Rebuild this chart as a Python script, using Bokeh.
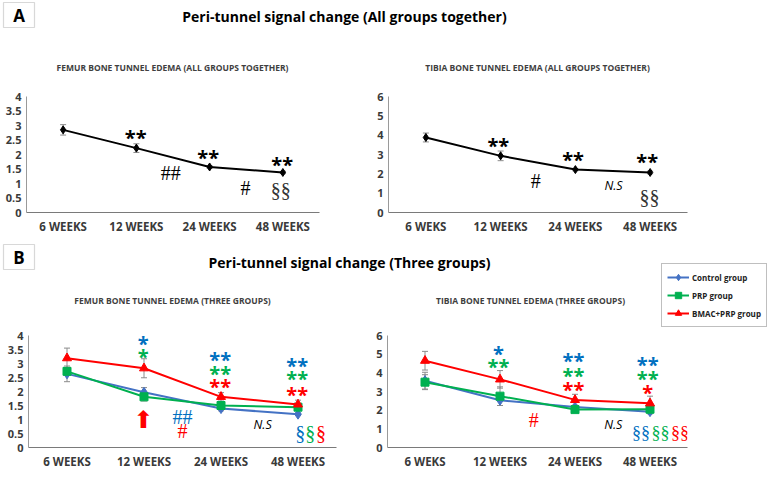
import numpy as np
from bokeh.plotting import figure
from bokeh.models import (ColumnDataSource, Whisker, TeeHead, Label, LabelSet, BoxAnnotation,
                          Legend, LegendItem, FactorRange, Range1d, FixedTicker,
                          CustomJSTickFormatter)
from bokeh.layouts import column, row
from bokeh.core.properties import value
from bokeh.embed import file_html
from bokeh.resources import INLINE

# ---------------- data ----------------
weeks_femur = ["6 WEEKS", "12 WEEKS", "24 WEEKS", "48 WEEKS"]
weeks_tibia = ["6 WEKS", "12 WEEKS", "24 WEEKS", "48 WEEKS"]

femur_all = [2.85, 2.22, 1.57, 1.38]
femur_all_err = [0.18, 0.15, 0.04, 0.04]
tibia_all = [3.88, 2.93, 2.22, 2.07]
tibia_all_err = [0.23, 0.25, 0.06, 0.07]

femur_control = [2.63, 1.97, 1.39, 1.19]
femur_control_err = [0.28, 0.17, 0.08, 0.04]
femur_prp = [2.72, 1.81, 1.50, 1.44]
femur_prp_err = [0.13, 0.15, 0.10, 0.05]
femur_bmac = [3.19, 2.83, 1.81, 1.54]
femur_bmac_err = [0.36, 0.34, 0.15, 0.15]

tibia_control = [3.58, 2.53, 2.17, 1.92]
tibia_control_err = [0.45, 0.28, 0.10, 0.12]
tibia_prp = [3.50, 2.75, 2.03, 2.05]
tibia_prp_err = [0.40, 0.50, 0.08, 0.10]
tibia_bmac = [4.65, 3.65, 2.55, 2.37]
tibia_bmac_err = [0.50, 0.47, 0.30, 0.38]

group_names = ["Control group", "PRP group", "BMAC+PRP group"]

BLUE, GREEN, RED, BLACK, DARK = "#0070C0", "#00B050", "#FF0000", "#000000", "#333333"
LINE_BLUE = "#4472C4"

# significance marks: (text, x position in category units, y value, colour)
femur_all_stars = [("**", 1.49, 2.71, BLACK), ("**", 2.48, 2.02, BLACK), ("**", 3.49, 1.79, BLACK)]
femur_all_hash = [("##", 1.97, 1.36, BLACK), ("#", 2.99, 0.86, BLACK)]
femur_all_sect = [("§§", 3.47, 0.79, DARK)]
femur_all_ns = []

tibia_all_stars = [("**", 1.47, 3.67, BLACK), ("**", 2.47, 2.97, BLACK), ("**", 3.46, 2.83, BLACK)]
tibia_all_hash = [("#", 1.97, 1.64, BLACK)]
tibia_all_sect = [("§§", 3.49, 0.79, DARK)]
tibia_all_ns = [("N.S", 3.01, 1.39, BLACK)]

femur_three_stars = [("*", 1.49, 3.86, BLUE), ("*", 1.49, 3.40, GREEN),
                     ("**", 2.49, 3.27, BLUE), ("**", 2.49, 2.77, GREEN), ("**", 2.49, 2.33, RED),
                     ("**", 3.49, 3.07, BLUE), ("**", 3.49, 2.60, GREEN), ("**", 3.49, 2.03, RED)]
femur_three_hash = [("##", 2.00, 1.10, BLUE), ("#", 2.00, 0.60, RED)]
femur_three_sect = [("§", 3.53, 0.53, BLUE), ("§", 3.66, 0.53, GREEN), ("§", 3.80, 0.53, RED)]
femur_three_ns = [("N.S", 3.04, 0.83, BLACK)]

tibia_three_stars = [("*", 1.48, 5.25, BLUE), ("**", 1.48, 4.55, GREEN),
                     ("**", 2.48, 4.85, BLUE), ("**", 2.48, 4.05, GREEN), ("**", 2.48, 3.30, RED),
                     ("**", 3.47, 4.65, BLUE), ("**", 3.47, 3.90, GREEN), ("*", 3.47, 3.15, RED)]
tibia_three_hash = [("#", 1.95, 1.50, RED)]
tibia_three_sect = [("§§", 3.38, 0.80, BLUE), ("§§", 3.64, 0.80, GREEN), ("§§", 3.90, 0.80, RED)]
tibia_three_ns = [("N.S", 3.01, 1.25, BLACK)]

FONT = "Open Sans"


def header(w, h):
    p = figure(width=w, height=h, x_range=Range1d(0, w), y_range=Range1d(0, h),
               output_backend="svg", toolbar_location=None, min_border=0,
               x_axis_location=None, y_axis_location=None)
    p.outline_line_color = None
    p.grid.visible = False
    return p


def add_header(p, letter, title, box, title_xy, subtitles):
    l, r, b, t = box
    p.add_layout(BoxAnnotation(left=l, right=r, bottom=b, top=t, fill_alpha=0,
                               line_color="#7F7F7F", line_width=1.2))
    p.add_layout(Label(x=(l + r) / 2, y=(b + t) / 2, text=letter, text_align="center",
                       text_baseline="middle", text_font=FONT, text_font_style="bold",
                       text_font_size="17px", text_color="#000000"))
    p.add_layout(Label(x=title_xy[0], y=title_xy[1], text=title, text_align="center",
                       text_baseline="middle", text_font=FONT, text_font_style="bold",
                       text_font_size="14px", text_color="#000000"))
    for txt, sx, sy in subtitles:
        p.add_layout(Label(x=sx, y=sy, text=txt, text_align="center", text_baseline="middle",
                           text_font=FONT, text_font_style="bold", text_font_size="8.5px",
                           text_color="#404040"))


def chart(factors, ymax, step, w, h, bl, br, bt, bb):
    p = figure(x_range=FactorRange(*factors), y_range=Range1d(0, ymax), width=w, height=h,
               output_backend="svg", toolbar_location=None,
               min_border_left=bl, min_border_right=br, min_border_top=bt, min_border_bottom=bb)
    p.outline_line_color = None
    p.grid.visible = False
    p.yaxis.ticker = FixedTicker(ticks=list(np.arange(0, ymax + 1e-9, step)))
    p.yaxis.formatter = CustomJSTickFormatter(code="return tick.toString()")
    for ax in (p.xaxis, p.yaxis):
        ax.major_tick_line_color = None
        ax.minor_tick_line_color = None
        ax.major_tick_out = 0
        ax.major_tick_in = 0
        ax.minor_tick_out = 0
        ax.major_label_text_font = FONT
        ax.major_label_text_font_style = "bold"
        ax.major_label_text_color = "#3A3A3A"
    p.yaxis.axis_line_color = "#9A9A9A"
    p.yaxis.major_label_text_font_size = "11px"
    p.yaxis.major_label_standoff = 5
    p.xaxis.axis_line_color = "#7A7A7A"
    p.xaxis.axis_line_width = 1.2
    p.xaxis.major_label_text_font_size = "11.5px"
    p.xaxis.major_label_standoff = 6
    return p


def series(p, factors, vals, errs, color, marker, size, lw):
    src = ColumnDataSource(dict(x=factors, y=vals,
                                upper=[v + e for v, e in zip(vals, errs)],
                                lower=[v - e for v, e in zip(vals, errs)]))
    p.add_layout(Whisker(base="x", upper="upper", lower="lower", source=src,
                         line_color="#8C8C8C", line_width=1,
                         upper_head=TeeHead(size=6, line_color="#8C8C8C", line_width=1),
                         lower_head=TeeHead(size=6, line_color="#8C8C8C", line_width=1)))
    ln = p.line("x", "y", source=src, line_color=color, line_width=lw)
    sc = p.scatter("x", "y", source=src, marker=marker, size=size,
                   fill_color=color, line_color=color)
    return [ln, sc]


def marks(p, stars, hashes, sects, ns, sect_size="20px"):
    groups = [(stars, FONT, "bold", "20px", -4),
              (hashes, "Liberation Serif", "normal", "20px", 0),
              (sects, "Liberation Serif", "normal", sect_size, 0),
              (ns, FONT, "italic", "12.5px", 0)]
    for items, font, style, size, yo in groups:
        if not items:
            continue
        src = ColumnDataSource(dict(text=[i[0] for i in items], x=[i[1] for i in items],
                                    y=[i[2] for i in items], c=[i[3] for i in items]))
        p.add_layout(LabelSet(x="x", y="y", text="text", source=src, text_color="c",
                              text_font=value(font), text_font_style=style,
                              text_font_size=value(size), text_align="center",
                              text_baseline="middle", y_offset=yo))


# ---------------- panel A ----------------
hA = header(767, 88)
add_header(hA, "A", "Peri-tunnel signal change (All groups together)", (3, 34, 61, 86), (344, 72),
           [("FEMUR BONE TUNNEL EDEMA (ALL GROUPS TOGETHER)", 172, 21),
            ("TIBIA BONE TUNNEL EDEMA (ALL GROUPS TOGETHER)", 537, 21)])

fA1 = chart(weeks_femur, 4, 0.5, 368, 148, 26, 49, 8, 23)
series(fA1, weeks_femur, femur_all, femur_all_err, BLACK, "diamond", 8, 2)
marks(fA1, femur_all_stars, femur_all_hash, femur_all_sect, femur_all_ns)

fA2 = chart(weeks_tibia, 6, 1, 399, 148, 20, 80, 8, 23)
series(fA2, weeks_tibia, tibia_all, tibia_all_err, BLACK, "diamond", 8, 2)
marks(fA2, tibia_all_stars, tibia_all_hash, tibia_all_sect, tibia_all_ns)

# ---------------- panel B ----------------
hB = header(767, 92)
add_header(hB, "B", "Peri-tunnel signal change (Three groups)", (3, 34, 59, 84), (349, 66),
           [("FEMUR BONE TUNNEL EDEMA (THREE GROUPS)", 172, 28),
            ("TIBIA BONE TUNNEL EDEMA (THREE GROUPS)", 530, 28)])

fB1 = chart(weeks_femur, 4, 0.5, 368, 143, 28, 32, 7, 21)
series(fB1, weeks_femur, femur_control, femur_control_err, LINE_BLUE, "diamond", 10, 2)
series(fB1, weeks_femur, femur_prp, femur_prp_err, GREEN, "square", 8, 2)
series(fB1, weeks_femur, femur_bmac, femur_bmac_err, RED, "triangle", 9, 2)
marks(fB1, femur_three_stars, femur_three_hash, femur_three_sect, femur_three_ns)
fB1.add_layout(Label(x=1.49, y=1.0, text="⬆", text_color=RED, text_font="DejaVu Sans",
                     text_font_size="24px", text_align="center", text_baseline="middle"))

fB2 = chart(weeks_tibia, 6, 1, 399, 143, 19, 80, 7, 21)
series(fB2, weeks_tibia, tibia_control, tibia_control_err, LINE_BLUE, "diamond", 10, 2)
series(fB2, weeks_tibia, tibia_prp, tibia_prp_err, GREEN, "square", 8, 2)
series(fB2, weeks_tibia, tibia_bmac, tibia_bmac_err, RED, "triangle", 9, 2)
marks(fB2, tibia_three_stars, tibia_three_hash, tibia_three_sect, tibia_three_ns, "18px")

# legend key (drawn in the panel-B header, above the tibia chart); its renderers carry the
# tibia series but are hidden, only their legend swatches are shown
key_styles = [(LINE_BLUE, "diamond", 10), (GREEN, "square", 8), (RED, "triangle", 9)]
key_data = [tibia_control, tibia_prp, tibia_bmac]
items = []
for name, (color, marker, size), vals in zip(group_names, key_styles, key_data):
    ln = hB.line(x=list(range(len(vals))), y=vals, line_color=color, line_width=2, visible=False)
    sc = hB.scatter(x=list(range(len(vals))), y=vals, marker=marker, size=size,
                    fill_color=color, line_color=color, visible=False)
    items.append(LegendItem(label=name, renderers=[ln, sc]))
legend = Legend(items=items, location=(661, 1), orientation="vertical",
                label_text_font=FONT, label_text_font_style="bold", label_text_font_size="8px",
                label_text_color="#222222", glyph_width=22, glyph_height=16, label_height=16,
                label_standoff=3, spacing=2, padding=5, margin=0,
                border_line_color="#7F7F7F", border_line_width=1, background_fill_alpha=1)
hB.add_layout(legend, "center")

layout = column(hA, row(fA1, fA2), hB, row(fB1, fB2))
open("out.html", "w").write(file_html(layout, INLINE))
